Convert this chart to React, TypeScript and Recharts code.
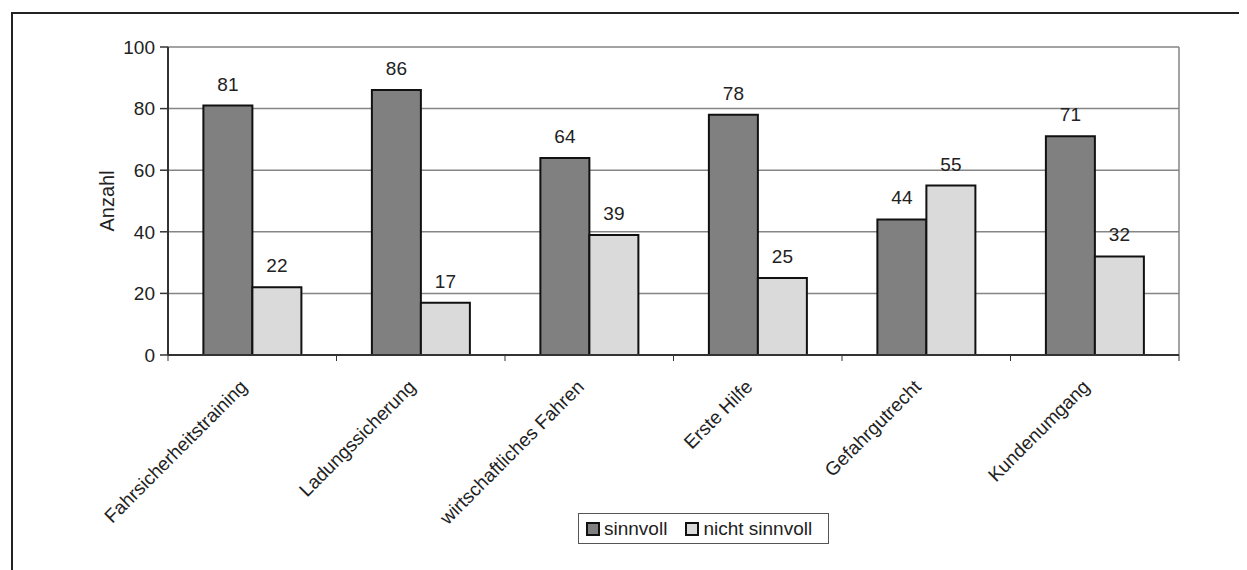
import { BarChart, Bar, XAxis, YAxis, CartesianGrid, LabelList } from 'recharts';

const kurse = ['Fahrsicherheitstraining', 'Ladungssicherung', 'wirtschaftliches Fahren', 'Erste Hilfe', 'Gefahrgutrecht', 'Kundenumgang'];
const sinnvoll = [81, 86, 64, 78, 44, 71];
const nichtSinnvoll = [22, 17, 39, 25, 55, 32];
const yTicks = [0, 20, 40, 60, 80, 100];

const SERIEN = [
    { key: 'sinnvoll', name: 'sinnvoll', fill: '#808080' },
    { key: 'nichtSinnvoll', name: 'nicht sinnvoll', fill: '#dadada' },
];

const data = kurse.map((name, i) => ({ name, sinnvoll: sinnvoll[i], nichtSinnvoll: nichtSinnvoll[i] }));

const W = 1239;
const H = 562;
const MARGIN = { top: 39, right: 68, left: 90, bottom: 0 };
const Y_WIDTH = 70;
const X_HEIGHT = 215;
const FONT = '"Liberation Sans", Arial, sans-serif';
const FS = 19;

// Breite einer Kategorie, damit die Teilstriche zwischen den Gruppen sitzen
const plotW = W - MARGIN.left - MARGIN.right - Y_WIDTH;
const band = plotW / kurse.length;

function KursTick(props: any) {
    const { x, y, payload, index } = props;
    const last = index === kurse.length - 1;
    const tx = x - 4;
    const ty = y + 25;
    return (
        <g>
            <line x1={x - band / 2} x2={x - band / 2} y1={y - 8} y2={y - 2} stroke="#333" strokeWidth={1} />
            {last && <line x1={x + band / 2} x2={x + band / 2} y1={y - 8} y2={y - 2} stroke="#333" strokeWidth={1} />}
            <text
                x={tx}
                y={ty}
                textAnchor="end"
                transform={`rotate(-45, ${tx}, ${ty})`}
                fill="#222"
                fontSize={FS}
                fontFamily={FONT}
            >
                {payload.value}
            </text>
        </g>
    );
}

export default function App() {
    return (
        <div style={{ position: 'relative', width: W, height: H, overflow: 'hidden', background: '#fff' }}>
            <div
                style={{
                    position: 'absolute',
                    left: 3,
                    top: 4,
                    width: W + 50,
                    height: H + 50,
                    border: '2px solid #222',
                    boxSizing: 'border-box',
                }}
            />
            <BarChart
                width={W}
                height={H}
                data={data}
                margin={MARGIN}
                barCategoryGap="21%"
                barGap={0}
                style={{ position: 'absolute', left: 0, top: 0 }}
            >
                <CartesianGrid
                    stroke="#858585"
                    strokeWidth={1.5}
                    verticalCoordinatesGenerator={({ offset }: any) => [offset.left + offset.width]}
                />
                <XAxis
                    dataKey="name"
                    interval={0}
                    height={X_HEIGHT}
                    tickLine={false}
                    tick={<KursTick />}
                    tickMargin={0}
                    tickSize={8}
                    axisLine={{ stroke: '#333', strokeWidth: 2 }}
                />
                <YAxis
                    domain={[0, 100]}
                    ticks={yTicks}
                    width={Y_WIDTH}
                    tickSize={8}
                    tickMargin={5}
                    tickLine={{ stroke: '#333', strokeWidth: 1.5 }}
                    axisLine={{ stroke: '#333', strokeWidth: 2 }}
                    tick={{ fill: '#222', fontSize: FS, fontFamily: FONT }}
                    label={{
                        value: 'Anzahl',
                        angle: -90,
                        position: 'insideLeft',
                        offset: 9,
                        style: { fill: '#222', fontSize: 20, fontFamily: FONT, textAnchor: 'middle' },
                    }}
                />
                {SERIEN.map((s) => (
                    <Bar key={s.key} dataKey={s.key} name={s.name} fill={s.fill} stroke="#111" strokeWidth={2} isAnimationActive={false}>
                        <LabelList dataKey={s.key} position="top" offset={15} fill="#222" fontSize={FS} fontFamily={FONT} />
                    </Bar>
                ))}
            </BarChart>
            <div
                style={{
                    position: 'absolute',
                    left: 570,
                    top: 505,
                    width: 251,
                    height: 31,
                    border: '1px solid #555',
                    boxSizing: 'border-box',
                    display: 'flex',
                    alignItems: 'center',
                    paddingLeft: 7,
                    gap: 18,
                    fontFamily: FONT,
                    fontSize: FS,
                    color: '#222',
                    whiteSpace: 'nowrap',
                }}
            >
                {SERIEN.map((s) => (
                    <div key={s.key} style={{ display: 'flex', alignItems: 'center', gap: 4 }}>
                        <span style={{ width: 14, height: 14, background: s.fill, border: '2px solid #111', boxSizing: 'border-box', display: 'inline-block' }} />
                        <span>{s.name}</span>
                    </div>
                ))}
            </div>
        </div>
    );
}
